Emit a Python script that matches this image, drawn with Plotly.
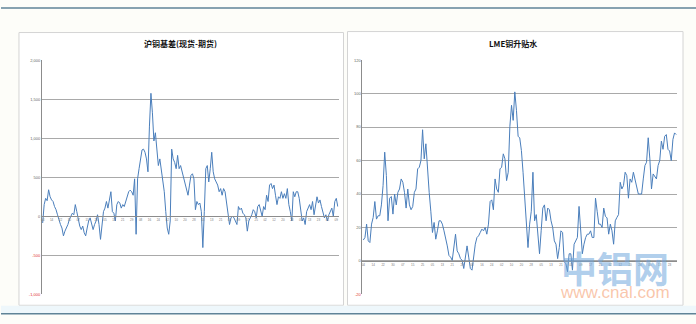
import plotly.graph_objects as go
import pandas as pd

# ---------------- data ----------------
shfe_basis = [-85, 150, 230, 200, 340, 250, 210, 190, 125, 85, 20, -60, -105, -150, -250, -190, -150, -105, -40, 0,
              40, 20, 150, 60, -60, -125, -170, -125, -210, -250, -150, -60, -20, -105, -170, -105, -60, 20, -105, -295,
              -105, 60, 105, 190, 105, 230, 315, 60, 40, -60, 150, 190, 170, 105, 150, 125, 190, 230, 315, 335,
              315, 270, 480, -230, 480, 610, 735, 850, 860, 820, 735, 570, 1155, 1575, 1325, 965, 1070, 820, 650, 735,
              610, 480, 315, 60, -150, -230, -60, 860, 735, 690, 610, 780, 610, 650, 570, 480, 400, 315, 270, 400,
              525, 545, 480, 85, 190, 150, 170, 60, -400, 60, 610, 650, 440, 610, 820, 570, 480, 440, 400, 315,
              355, 270, 355, 315, 150, 0, -105, -20, 0, -20, -60, -105, 125, 85, 105, 40, 20, -20, -190, -60,
              -20, 20, 85, 60, -20, 125, 150, 60, 0, 125, 85, 270, 190, 400, 420, 355, 400, 270, 150, 250,
              230, 315, 230, 290, 230, 355, 150, 60, -60, 315, 250, 315, 315, 230, 60, -60, -20, -105, 60, 105,
              150, 85, 190, 20, 125, 250, 170, 210, 125, 60, -20, 20, -60, 20, 60, 105, 0, 190, 230, 125]

lme_spread = [12.5, 14, 22, 12, 11, 22, 26, 35.5, 25, 27, 27, 33.5, 45, 65, 51, 24, 37.5, 38.5, 28, 40,
              33.5, 41, 43, 49, 47, 41, 31.6, 43, 33.5, 30.6, 32.5, 41, 43, 55, 56, 60, 78.4, 61, 70, 53,
              41, 29.7, 17, 23, 13, 18, 24, 24, 22, 18, 14, 9, 3.3, 2.3, 0.4, 10, 16, 6, 4.3, 1.4,
              0.4, -4.5, 2.3, 9, 2.3, -4.5, -5.5, 4.3, 10, 14, 15, 17, 19, 18, 20, 16, 22, 35.5, 36.5, 30.6,
              49, 43, 41, 55, 56, 64, 61, 48, 53, 80.4, 93, 84, 101, 90, 74.5, 73.5, 66, 53, 35.5, 22,
              8, 22, 29.7, 53, 24, 27.7, 16, 4.3, 18, 31.6, 33.5, 24, 31.6, 30.6, 24, 20, 12, 10, 1.4, 8,
              18, 17, -0.6, -1.5, -6.4, 4.3, 4.3, -5.5, 10, 12, 14, 32.6, 18, 4.3, 10, 14, 16, 16, 18, 14,
              14, 37.5, 29.7, 22, 22, 20, 31.6, 26.7, 25.7, 16, 22, 18, 10, 24, 26, 27.7, 47, 43, 45, 53,
              51, 37.5, 49, 47, 53, 49, 45, 40, 40, 40, 49, 57, 59, 73.6, 61, 43, 52, 50, 49, 57,
              60, 71.6, 66.7, 74.5, 75.5, 66.7, 65.7, 60, 72.6, 76.5, 75.5]

left_dates = [d.strftime("%Y-%m-%d") for d in pd.bdate_range("2013-01-04", periods=len(shfe_basis))]
right_dates = [d.strftime("%Y-%m-%d") for d in pd.bdate_range("2013-01-04", periods=len(lme_spread))]

left_title = "沪铜基差(现货-期货)"
right_title = "LME铜升贴水"
left_yticks = [-1000, -500, 0, 500, 1000, 1500, 2000]
left_ylabels = ["-1,000", "-500", "0", "500", "1,000", "1,500", "2,000"]
right_yticks = [-20, 0, 20, 40, 60, 80, 100, 120]
right_ylabels = ["-20", "0", "20", "40", "60", "80", "100", "120"]

# ---------------- layout helpers ----------------
W, H = 696, 324
def px(x): return x / W
def py(y): return 1 - y / H

ydom = [py(296), py(58)]
LINE = "#4a7ebb"
GRID = "#a9a9a9"
AX = "#8c8c8c"
STEP = 6

def color_labels(vals, labels):
    return [f'<span style="color:#e03030">{t}</span>' if v < 0 else t for v, t in zip(vals, labels)]

def zero_pos(rng):
    return ydom[0] + (ydom[1] - ydom[0]) * (0 - rng[0]) / (rng[1] - rng[0])

def short(dates):
    return [d[-2:] for d in dates]

lrng = [-1000, 2000]
rrng = [-20, 120]

fig = go.Figure()
fig.add_trace(go.Scatter(x=left_dates, y=shfe_basis, mode="lines",
                         line=dict(color=LINE, width=1), xaxis="x", yaxis="y", showlegend=False))
fig.add_trace(go.Scatter(x=right_dates, y=lme_spread, mode="lines",
                         line=dict(color=LINE, width=1), xaxis="x2", yaxis="y2", showlegend=False))

tickfont_x = dict(size=3, color="#777777", family="Liberation Sans")
tickfont_y = dict(size=4, color="#666666", family="Liberation Sans")

fig.update_layout(
    width=W, height=H,
    margin=dict(l=0, r=0, t=0, b=0),
    paper_bgcolor="#fdfdf9",
    plot_bgcolor="rgba(0,0,0,0)",
    xaxis=dict(domain=[px(41), px(338)], anchor="free", position=zero_pos(lrng),
               type="category", range=[-0.5, len(shfe_basis) - 0.5],
               showline=True, linecolor=AX, linewidth=1, showgrid=False, zeroline=False,
               tickmode="array", tickvals=left_dates[::STEP], ticktext=short(left_dates[::STEP]),
               tickangle=0, tickfont=tickfont_x, ticks=""),
    yaxis=dict(domain=ydom, anchor="x", range=lrng, tickmode="array",
               tickvals=left_yticks, ticktext=color_labels(left_yticks, left_ylabels),
               showgrid=True, gridcolor=GRID, gridwidth=1, zeroline=False,
               showline=True, linecolor=AX, linewidth=1, tickfont=tickfont_y, ticks=""),
    xaxis2=dict(domain=[px(362), px(677)], anchor="free", position=zero_pos(rrng),
                type="category", range=[-0.5, len(lme_spread) - 0.5],
                showline=True, linecolor=AX, linewidth=1, showgrid=False, zeroline=False,
                tickmode="array", tickvals=right_dates[::STEP], ticktext=short(right_dates[::STEP]),
                tickangle=0, tickfont=tickfont_x, ticks=""),
    yaxis2=dict(domain=ydom, anchor="x2", range=rrng, tickmode="array",
                tickvals=right_yticks, ticktext=color_labels(right_yticks, right_ylabels),
                showgrid=True, gridcolor=GRID, gridwidth=1, zeroline=False,
                showline=True, linecolor=AX, linewidth=1, tickfont=tickfont_y, ticks=""),
)

shapes = [
    dict(type="rect", xref="paper", yref="paper", x0=px(18), x1=px(343), y0=py(307), y1=py(30),
         fillcolor="white", line=dict(color="#d4d4d4", width=1), layer="below"),
    dict(type="rect", xref="paper", yref="paper", x0=px(347), x1=px(683), y0=py(307), y1=py(29),
         fillcolor="white", line=dict(color="#d4d4d4", width=1), layer="below"),
    dict(type="rect", xref="paper", yref="paper", x0=0, x1=1, y0=py(315), y1=py(307.5),
         fillcolor="#eef7fb", line=dict(width=0), layer="below"),
    dict(type="line", xref="paper", yref="paper", x0=0, x1=1, y0=py(5), y1=py(5),
         line=dict(color="#5f8397", width=1.5)),
    dict(type="line", xref="paper", yref="paper", x0=0, x1=1, y0=py(315.5), y1=py(315.5),
         line=dict(color="#5f8397", width=1.5)),
]
fig.update_layout(shapes=shapes)

title_font = dict(family="Noto Sans CJK SC", size=8, color="#111111")
fig.add_annotation(x=px(180), y=py(41), xref="paper", yref="paper", text=f"<b>{left_title}</b>",
                   showarrow=False, font=title_font, xanchor="center", yanchor="middle")
fig.add_annotation(x=px(513), y=py(41), xref="paper", yref="paper", text=f"<b>{right_title}</b>",
                   showarrow=False, font=title_font, xanchor="center", yanchor="middle")

# watermark
fig.add_annotation(x=px(615), y=py(268), xref="paper", yref="paper", text="<b>中铝网</b>",
                   showarrow=False, xanchor="center", yanchor="middle",
                   font=dict(family="Noto Sans CJK SC", size=36, color="rgba(110,165,220,0.55)"))
fig.add_annotation(x=px(615), y=py(294), xref="paper", yref="paper", text="www.cnal.com",
                   showarrow=False, xanchor="center", yanchor="middle",
                   font=dict(family="Liberation Sans", size=17, color="rgba(245,160,115,0.6)"))

fig.write_html("out.html")
